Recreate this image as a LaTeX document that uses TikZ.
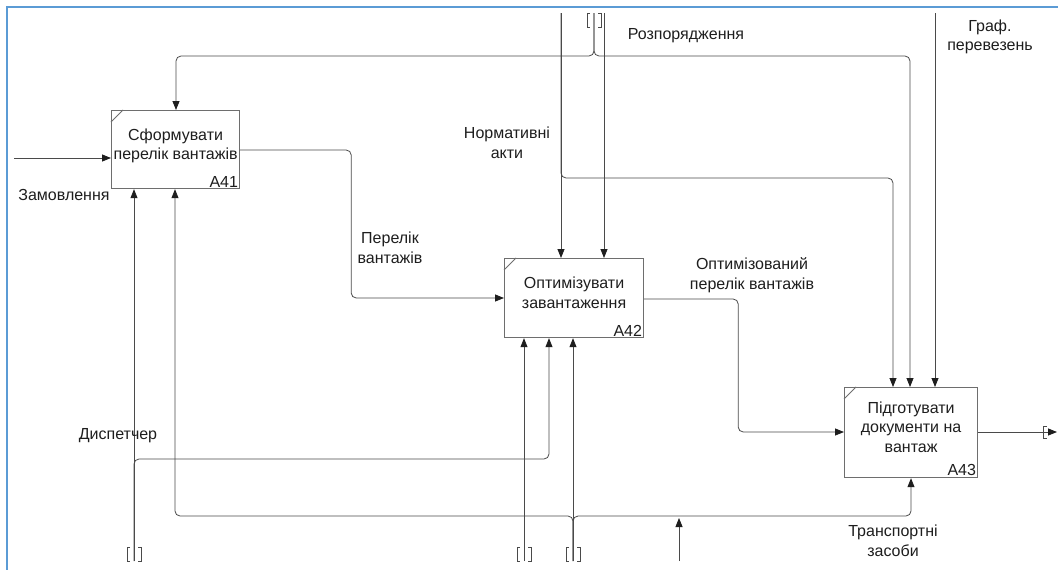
\documentclass[tikz,border=0pt]{standalone}
\usepackage{fontspec}
\setmainfont{Liberation Sans}
\usepackage{xcolor}
\usepackage{tikz}
\usetikzlibrary{calc,arrows.meta,positioning}
\definecolor{frame}{HTML}{5B9BD5}
\definecolor{ink}{HTML}{1E1E1E}
\definecolor{wire}{HTML}{4A4A4A}
\definecolor{edge}{HTML}{6E6E6E}
\tikzset{
  box/.style={draw=edge, line width=1.2pt, fill=white, align=center, text=ink,
    font=\fontsize{16}{19.5}\selectfont, inner sep=0pt, text depth=11pt, anchor=north west},
  num/.style={text=ink, font=\fontsize{16}{18}\selectfont, inner sep=2pt, anchor=south east},
  flow/.style={draw=wire, line width=0.8pt, rounded corners=5pt,
    -{Triangle[length=9pt,width=7pt,color=ink]}},
  lab/.style={text=ink, font=\fontsize{16}{19.5}\selectfont, align=center, inner sep=1pt},
  tun/.style={draw=wire, line width=0.8pt},
  tunnel/.pic={
    \draw[tun] (-4,-7) -- (-7,-7) -- (-7,7) -- (-4,7);
    \draw[tun] (4,-7) -- (7,-7) -- (7,7) -- (4,7);
  },
}

\begin{document}
\begin{tikzpicture}[x=1pt, y=-1pt]
\useasboundingbox (0,0) rectangle (1058,570);
\fill[white] (0,0) rectangle (1058,570);
\draw[frame, line width=2pt] (7,570) -- (7,7) -- (1058,7);

% activity boxes
\node[box, minimum width=128pt, minimum height=78pt] (a41) at (111,110) {Сформувати\\перелік вантажів};
\node[box, minimum width=139pt, minimum height=79pt] (a42) at (504,258) {Оптимізувати\\завантаження};
\node[box, minimum width=133pt, minimum height=90pt] (a43) at (844,387) {Підготувати\\документи на\\вантаж};
\node[num] (n41) at (a41.south east) {A41};
\node[num] (n42) at (a42.south east) {A42};
\node[num] (n43) at (a43.south east) {A43};
\foreach \b in {a41,a42,a43}
  \draw[draw=edge, line width=1pt] ($(\b.north west)+(0,12)$) -- ($(\b.north west)+(12,0)$);

% attach points
\coordinate (i41) at ($(a41.north west)+(0,48)$);
\coordinate (o41) at ($(a41.north east)+(0,40)$);
\coordinate (c41) at ($(a41.north west)+(65,0)$);
\coordinate (m41a) at ($(a41.south west)+(23,0)$);
\coordinate (m41b) at ($(a41.south west)+(64,0)$);
\coordinate (i42) at ($(a42.north west)+(0,40)$);
\coordinate (o42) at ($(a42.north east)+(0,41)$);
\coordinate (c42a) at ($(a42.north west)+(57,0)$);
\coordinate (c42b) at ($(a42.north west)+(100,0)$);
\coordinate (m42a) at ($(a42.south west)+(20,0)$);
\coordinate (m42b) at ($(a42.south west)+(45,0)$);
\coordinate (m42c) at ($(a42.south west)+(69,0)$);
\coordinate (i43) at ($(a43.north west)+(0,45)$);
\coordinate (o43) at ($(a43.north east)+(0,45)$);
\coordinate (c43a) at ($(a43.north west)+(49,0)$);
\coordinate (c43b) at ($(a43.north west)+(66,0)$);
\coordinate (c43c) at ($(a43.north west)+(91,0)$);
\coordinate (m43) at ($(a43.south west)+(67,0)$);

% free ends and rows
\coordinate (zam) at (14,158);
\coordinate (rozp) at (594,13);
\coordinate (top42) at (604,13);
\coordinate (norm) at (561,13);
\coordinate (graf) at (935,13);
\coordinate (rowR) at (0,56);
\coordinate (rowN) at (0,178);
\coordinate (disp) at (134,561);
\coordinate (mech42) at (524,561);
\coordinate (trans) at (573,561);
\coordinate (rowD) at (0,459);
\coordinate (rowT) at (0,516);
\coordinate (joinB) at (679,561);
\coordinate (joinT) at (679,518);
\coordinate (out) at (1057,432);

% inputs and outputs
\draw[flow] (zam) -- (i41);
\draw[flow] (o41) -- ++(111,0) |- (i42);
\draw[flow] (o42) -- ++(94,0) |- (i43);
\draw[flow] (o43) -- (out);
\draw[tun] (1047,426) -- (1043,426) -- (1043,438) -- (1047,438);

% controls
\draw[flow] (rozp) |- (c41 |- rowR) -- (c41);
\draw[flow] (rozp) |- (c43b |- rowR) -- (c43b);
\draw[flow] (top42) -- (c42b);
\draw[flow] (norm) -- (c42a);
\draw[flow] (norm) |- (c43a |- rowN) -- (c43a);
\draw[flow] (graf) -- (c43c);
\pic at (594,20) {tunnel};

% mechanisms
\draw[flow] (disp) -- (m41a);
\draw[flow] (disp) |- (m42b |- rowD) -- (m42b);
\draw[flow] (mech42) -- (m42a);
\draw[flow] (trans) -- (m42c);
\draw[flow] (trans) |- (m41b |- rowT) -- (m41b);
\draw[flow] (trans) |- (m43 |- rowT) -- (m43);
\draw[flow] (joinB) -- (joinT);
\foreach \t in {disp,mech42,trans}
  \pic at ($(\t)+(0,-7)$) {tunnel};

% labels
\node[lab] (lzam) at (64,195) {Замовлення};
\node[lab] (lrozp) at (686,36) {Розпорядження};
\node[lab] (lnorm) at (507,143) {Нормативні\\акти};
\node[lab] (lgraf) at (990,37) {Граф.\\перевезень};
\node[lab] (lper) at (390,248) {Перелік\\вантажів};
\node[lab] (lopt) at (752,275) {Оптимізований\\перелік вантажів};
\node[lab] (ldisp) at (118,436) {Диспетчер};
\node[lab] (ltrans) at (893,541) {Транспортні\\засоби};
\end{tikzpicture}
\end{document}
